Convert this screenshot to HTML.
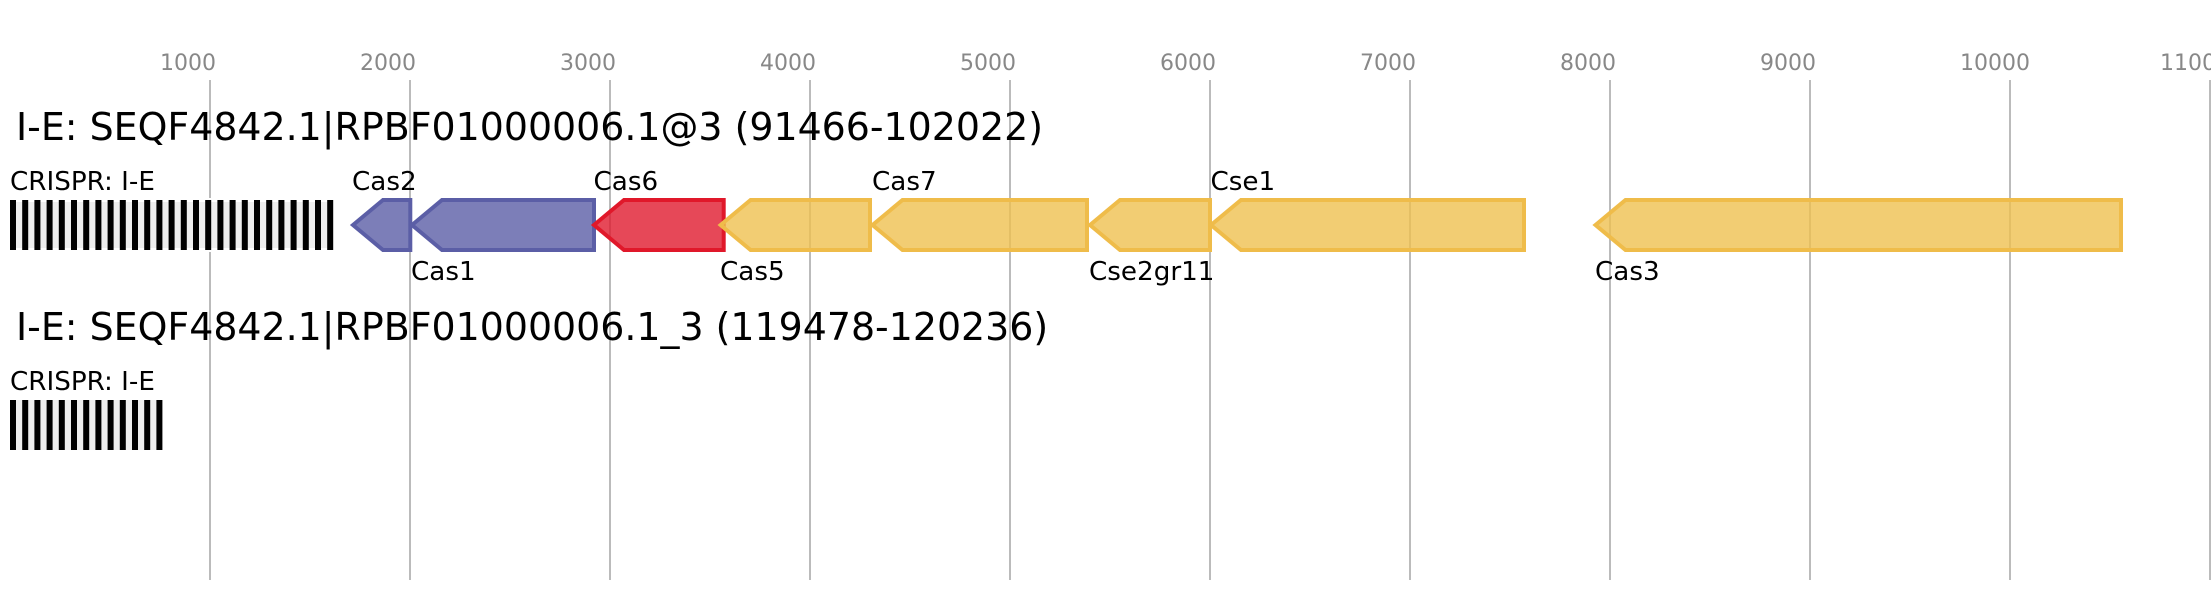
<!DOCTYPE html>
<html><head><meta charset="utf-8"><style>
html,body{margin:0;padding:0;background:#fff;width:2211px;height:600px;overflow:hidden}
svg{display:block}
text{font-family:"DejaVu Sans",sans-serif}
.a{font-size:22px;fill:#888}
.t{font-size:37.9px;fill:#000}
.l{font-size:26.2px;fill:#000}
.g{stroke:#bbb;stroke-width:2}
.b{fill:#000}
.y{fill:#EFC050;fill-opacity:.8;stroke:#EFBC4A;stroke-width:4}
.v{fill:#5B5EA6;fill-opacity:.8;stroke:#5B5EA6;stroke-width:4}
.r{fill:#E01A2E;fill-opacity:.8;stroke:#E0182A;stroke-width:4}
</style></head><body>
<svg width="2211" height="600" viewBox="0 0 2211 600" xmlns="http://www.w3.org/2000/svg">
<rect width="2211" height="600" fill="#fff"/>
<g class="g">
<line x1="210" y1="80" x2="210" y2="580"/><line x1="410" y1="80" x2="410" y2="580"/><line x1="610" y1="80" x2="610" y2="580"/><line x1="810" y1="80" x2="810" y2="580"/><line x1="1010" y1="80" x2="1010" y2="580"/><line x1="1210" y1="80" x2="1210" y2="580"/><line x1="1410" y1="80" x2="1410" y2="580"/><line x1="1610" y1="80" x2="1610" y2="580"/><line x1="1810" y1="80" x2="1810" y2="580"/><line x1="2010" y1="80" x2="2010" y2="580"/><line x1="2210" y1="80" x2="2210" y2="580"/>
</g>
<g class="a">
<text x="160" y="70">1000</text><text x="360" y="70">2000</text><text x="560" y="70">3000</text><text x="760" y="70">4000</text><text x="960" y="70">5000</text><text x="1160" y="70">6000</text><text x="1360" y="70">7000</text><text x="1560" y="70">8000</text><text x="1760" y="70">9000</text><text x="1960" y="70">10000</text><text x="2160" y="70">11000</text>
</g>
<text class="t" x="16" y="140">I-E: SEQF4842.1|RPBF01000006.1@3 (91466-102022)</text>
<text class="t" x="16" y="340">I-E: SEQF4842.1|RPBF01000006.1_3 (119478-120236)</text>
<text class="l" x="10" y="190">CRISPR: I-E</text>
<text class="l" x="10" y="390">CRISPR: I-E</text>

<rect x="10" y="200" width="323" height="50" fill="#eee" stroke="#fff" stroke-width="4"/>
<g class="b">
<rect x="10" y="200" width="6" height="50"/><rect x="22.2" y="200" width="6" height="50"/><rect x="34.4" y="200" width="6" height="50"/><rect x="46.6" y="200" width="6" height="50"/><rect x="58.8" y="200" width="6" height="50"/><rect x="71" y="200" width="6" height="50"/><rect x="83.2" y="200" width="6" height="50"/><rect x="95.4" y="200" width="6" height="50"/><rect x="107.6" y="200" width="6" height="50"/><rect x="119.8" y="200" width="6" height="50"/><rect x="132" y="200" width="6" height="50"/><rect x="144.2" y="200" width="6" height="50"/><rect x="156.4" y="200" width="6" height="50"/><rect x="168.6" y="200" width="6" height="50"/><rect x="180.8" y="200" width="6" height="50"/><rect x="193" y="200" width="6" height="50"/><rect x="205.2" y="200" width="6" height="50"/><rect x="217.4" y="200" width="6" height="50"/><rect x="229.6" y="200" width="6" height="50"/><rect x="241.8" y="200" width="6" height="50"/><rect x="254" y="200" width="6" height="50"/><rect x="266.2" y="200" width="6" height="50"/><rect x="278.4" y="200" width="6" height="50"/><rect x="290.6" y="200" width="6" height="50"/><rect x="302.8" y="200" width="6" height="50"/><rect x="315" y="200" width="6" height="50"/><rect x="327.2" y="200" width="6" height="50"/>
</g>
<rect x="10" y="400" width="152.4" height="50" fill="#eee"/>
<g class="b">
<rect x="10" y="400" width="6" height="50"/><rect x="22.2" y="400" width="6" height="50"/><rect x="34.4" y="400" width="6" height="50"/><rect x="46.6" y="400" width="6" height="50"/><rect x="58.8" y="400" width="6" height="50"/><rect x="71" y="400" width="6" height="50"/><rect x="83.2" y="400" width="6" height="50"/><rect x="95.4" y="400" width="6" height="50"/><rect x="107.6" y="400" width="6" height="50"/><rect x="119.8" y="400" width="6" height="50"/><rect x="132" y="400" width="6" height="50"/><rect x="144.2" y="400" width="6" height="50"/><rect x="156.4" y="400" width="6" height="50"/>
</g>

<polygon class="v" points="353,225 383,200 410.3,200 410.3,250 383,250"/>
<polygon class="v" points="412,225 442,200 594,200 594,250 442,250"/>
<polygon class="r" points="594,225 624,200 723.7,200 723.7,250 624,250"/>
<polygon class="y" points="720.6,225 750.6,200 870,200 870,250 750.6,250"/>
<polygon class="y" points="872.5,225 902.5,200 1087,200 1087,250 902.5,250"/>
<polygon class="y" points="1090,225 1120,200 1210,200 1210,250 1120,250"/>
<polygon class="y" points="1211,225 1241,200 1524,200 1524,250 1241,250"/>
<polygon class="y" points="1595.5,225 1625.5,200 2121,200 2121,250 1625.5,250"/>

<text class="l" x="352" y="190">Cas2</text>
<text class="l" x="411" y="280">Cas1</text>
<text class="l" x="593.5" y="190">Cas6</text>
<text class="l" x="720" y="280">Cas5</text>
<text class="l" x="872" y="190">Cas7</text>
<text class="l" x="1089" y="280">Cse2gr11</text>
<text class="l" x="1210.5" y="190">Cse1</text>
<text class="l" x="1595" y="280">Cas3</text>
</svg>
</body></html>
